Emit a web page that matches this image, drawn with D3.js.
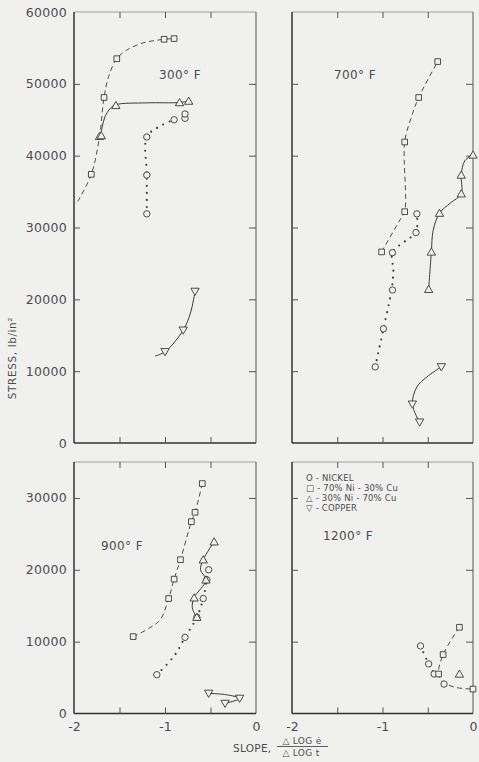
<!DOCTYPE html>
<html>
<head>
<meta charset="utf-8">
<script src="https://cdn.jsdelivr.net/npm/d3@7/dist/d3.min.js"></script>
<style>
  html, body { margin: 0; padding: 0; background: #f0f0ef; }
  svg { display: block; }
  text { font-family: "DejaVu Sans", sans-serif; fill: #4d4d4d; }
</style>
</head>
<body>
<svg id="chart" width="479" height="762"></svg>
<script>
// ---- Creep slope vs. stress, four test temperatures ----
// Each point: [slope Δlog ė / Δlog t, stress lb/in²]

// 300° F
const nickel300 = [[-1.2, 31900], [-1.2, 37300], [-1.2, 42600], [-0.9, 45000], [-0.78, 45200], [-0.78, 45800]];
const ni70_300  = [[-1.81, 37400], [-1.67, 48100], [-1.53, 53500], [-1.01, 56200], [-0.9, 56300]];
const ni30_300  = [[-1.72, 42700], [-1.70, 42800], [-1.54, 47000], [-0.84, 47400], [-0.74, 47600]];
const copper300 = [[-1.0, 12700], [-0.8, 15700], [-0.67, 21100]];
// fitted curves, 300° F
const nickel300Fit = [[-1.2, 31900], [-1.2, 37300], [-1.2, 42600], [-1.07, 44000], [-0.9, 45000], [-0.78, 45500]];
const ni70_300Fit  = [[-1.96, 33600], [-1.81, 37400], [-1.72, 42600], [-1.67, 48100], [-1.62, 51000], [-1.53, 53500], [-1.42, 54700], [-1.24, 55700], [-1.01, 56200], [-0.9, 56300]];
const ni30_300Fit  = [[-1.71, 42700], [-1.69, 44000], [-1.66, 45400], [-1.6, 46600], [-1.54, 47100], [-1.2, 47350], [-0.84, 47400], [-0.74, 47600]];
const copper300Fit = [[-1.11, 12100], [-1.0, 12700], [-0.8, 15700], [-0.72, 18100], [-0.67, 21100]];

// 700° F
const nickel700 = [[-1.08, 10600], [-0.99, 15900], [-0.89, 21300], [-0.89, 26500], [-0.63, 29300], [-0.62, 31900]];
const ni70_700  = [[-1.01, 26600], [-0.755, 32200], [-0.755, 41900], [-0.6, 48100], [-0.39, 53100]];
const ni30_700  = [[-0.49, 21400], [-0.46, 26600], [-0.37, 32000], [-0.13, 34700], [-0.13, 37300], [0, 40100]];
const copper700 = [[-0.35, 10600], [-0.67, 5400], [-0.59, 2900]];
const nickel700Fit = [[-1.08, 10600], [-0.99, 15900], [-0.9, 21300], [-0.88, 24000], [-0.89, 26500], [-0.75, 28100], [-0.63, 29300], [-0.62, 31900]];
const ni70_700Fit  = [[-1.01, 26600], [-0.81, 31000], [-0.755, 32200], [-0.755, 41900], [-0.68, 45400], [-0.6, 48100], [-0.39, 53100]];
const ni30_700Fit  = [[-0.49, 21400], [-0.46, 26600], [-0.44, 29600], [-0.37, 32000], [-0.25, 33400], [-0.13, 34700], [-0.13, 37300], [-0.09, 39300], [0, 40100]];
const copper700Fit = [[-0.35, 10600], [-0.51, 9200], [-0.62, 7800], [-0.67, 5400], [-0.59, 2900]];

// 900° F
const nickel900 = [[-1.09, 5400], [-0.78, 10600], [-0.65, 13400], [-0.58, 16000], [-0.54, 18600], [-0.52, 20000]];
const ni70_900  = [[-1.35, 10700], [-0.96, 16000], [-0.9, 18700], [-0.83, 21400], [-0.71, 26700], [-0.67, 28000], [-0.59, 32000]];
const ni30_900  = [[-0.65, 13400], [-0.68, 16100], [-0.55, 18600], [-0.58, 21400], [-0.46, 23900]];
const copper900 = [[-0.52, 2800], [-0.18, 2100], [-0.34, 1400]];
const nickel900Fit = [[-1.09, 5400], [-0.9, 8000], [-0.78, 10600], [-0.65, 13400], [-0.58, 16000], [-0.54, 18600], [-0.52, 20000]];
const ni70_900Fit  = [[-1.35, 10700], [-1.17, 11900], [-1.05, 13100], [-0.96, 16000], [-0.9, 18700], [-0.83, 21400], [-0.71, 26700], [-0.67, 28000], [-0.59, 32000]];
const ni30_900Fit  = [[-0.65, 13400], [-0.7, 14700], [-0.68, 16100], [-0.55, 18600], [-0.61, 20000], [-0.58, 21400], [-0.46, 23900]];
const copper900Fit = [[-0.52, 2800], [-0.32, 2600], [-0.18, 2100], [-0.34, 1400]];

// 1200° F
const nickel1200 = [[-0.58, 9400], [-0.49, 6900], [-0.43, 5500], [-0.32, 4100]];
const ni70_1200  = [[-0.15, 12000], [-0.33, 8200], [-0.38, 5500], [0, 3400]];
const ni30_1200  = [[-0.15, 5500]];
const copper1200 = [];
const nickel1200Fit = [[-0.58, 9400], [-0.49, 6900], [-0.43, 5500]];
const ni70_1200Fit  = [[-0.15, 12000], [-0.33, 8200], [-0.38, 5500], [-0.33, 4400], [-0.2, 3650], [0, 3400]];

// axes
const slopeTicks = [-1.5, -1, -0.5];
const slopeLabels = [-2, -1, 0];
const stressTicksTop = [0, 10000, 20000, 30000, 40000, 50000, 60000];
const stressTicksBottom = [0, 10000, 20000, 30000];
const tempLabels = ["300° F", "700° F", "900° F", "1200° F"];
const legendLabels = ["O - NICKEL", "□ - 70% Ni - 30% Cu", "△ - 30% Ni - 70% Cu", "▽ - COPPER"];

const svg = d3.select("#chart");
const BG = "#f0f0ef";
const INK = "#3a3a3a";

svg.append("rect").attr("width", 479).attr("height", 762).attr("fill", BG);

const xLeft  = d3.scaleLinear().domain([-2, 0]).range([74, 256]);
const xRight = d3.scaleLinear().domain([-2, 0]).range([292, 473]);
const yTop   = d3.scaleLinear().domain([0, 60000]).range([443, 12]);
const yBot   = d3.scaleLinear().domain([0, 35000]).range([713.5, 462]);

const panels = [
  { x: xLeft,  y: yTop, label: tempLabels[0], lx: 159, ly: 79, yTicks: stressTicksTop, yLabels: true, xLabels: false,
    nickel: nickel300, ni70: ni70_300, ni30: ni30_300, copper: copper300,
    fits: { nickel: nickel300Fit, ni70: ni70_300Fit, ni30: ni30_300Fit, copper: copper300Fit } },
  { x: xRight, y: yTop, label: tempLabels[1], lx: 334, ly: 79, yTicks: stressTicksTop, yLabels: false, xLabels: false,
    nickel: nickel700, ni70: ni70_700, ni30: ni30_700, copper: copper700,
    fits: { nickel: nickel700Fit, ni70: ni70_700Fit, ni30: ni30_700Fit, copper: copper700Fit } },
  { x: xLeft,  y: yBot, label: tempLabels[2], lx: 101, ly: 550, yTicks: stressTicksBottom, yLabels: true, xLabels: true,
    nickel: nickel900, ni70: ni70_900, ni30: ni30_900, copper: copper900,
    fits: { nickel: nickel900Fit, ni70: ni70_900Fit, ni30: ni30_900Fit, copper: copper900Fit } },
  { x: xRight, y: yBot, label: tempLabels[3], lx: 323, ly: 540, yTicks: stressTicksBottom, yLabels: false, xLabels: true,
    nickel: nickel1200, ni70: ni70_1200, ni30: ni30_1200, copper: copper1200,
    fits: { nickel: nickel1200Fit, ni70: ni70_1200Fit } }
];

const lineStyles = {
  nickel: { dash: "0 7", width: 2.1, cap: "round" },
  ni70:   { dash: "5 3.5", width: 0.9, cap: "butt" },
  ni30:   { dash: null, width: 1, cap: "butt" },
  copper: { dash: null, width: 1, cap: "butt" }
};

const symbols = {
  nickel: { type: d3.symbolCircle, size: 32, rot: 0 },
  ni70:   { type: d3.symbolSquare, size: 32, rot: 0 },
  ni30:   { type: d3.symbolTriangle, size: 30, rot: 0 },
  copper: { type: d3.symbolTriangle, size: 30, rot: 180 }
};

panels.forEach(p => {
  const g = svg.append("g");
  const [x0, x1] = p.x.range();
  const [y1, y0] = p.y.range();

  // frame: heavier left/bottom, lighter top/right
  g.append("line").attr("x1", x0).attr("x2", x1).attr("y1", y0).attr("y2", y0)
    .attr("stroke", "#8a8a8a").attr("stroke-width", 0.8);
  g.append("line").attr("x1", x1).attr("x2", x1).attr("y1", y0).attr("y2", y1)
    .attr("stroke", "#555").attr("stroke-width", 1);
  g.append("line").attr("x1", x0).attr("x2", x0).attr("y1", y0).attr("y2", y1)
    .attr("stroke", "#333").attr("stroke-width", 1.5);
  g.append("line").attr("x1", x0).attr("x2", x1).attr("y1", y1).attr("y2", y1)
    .attr("stroke", "#333").attr("stroke-width", 1.5);

  // inward ticks on all four sides
  const inner = p.yTicks.filter(v => v > p.y.domain()[0] && v < p.y.domain()[1]);
  const tickStyle = s => s.selectAll(".domain").remove();
  g.append("g").attr("transform", `translate(${x0},0)`)
    .call(d3.axisLeft(p.y).tickValues(inner).tickSize(-6).tickFormat(""))
    .call(tickStyle).selectAll("line").attr("stroke", "#555");
  g.append("g").attr("transform", `translate(${x1},0)`)
    .call(d3.axisRight(p.y).tickValues(inner).tickSize(-7).tickFormat(""))
    .call(tickStyle).selectAll("line").attr("stroke", "#555");
  g.append("g").attr("transform", `translate(0,${y0})`)
    .call(d3.axisTop(p.x).tickValues(slopeTicks).tickSize(-6).tickFormat(""))
    .call(tickStyle).selectAll("line").attr("stroke", "#555");
  g.append("g").attr("transform", `translate(0,${y1})`)
    .call(d3.axisBottom(p.x).tickValues(slopeTicks).tickSize(-6).tickFormat(""))
    .call(tickStyle).selectAll("line").attr("stroke", "#555");

  if (p.yLabels) {
    const ax = g.append("g").attr("transform", `translate(${x0},0)`)
      .call(d3.axisLeft(p.y).tickValues(p.yTicks).tickSize(0).tickPadding(7).tickFormat(d3.format("d")));
    ax.select(".domain").remove();
    ax.selectAll("text").style("font-size", "12.5px").attr("fill", "#4d4d4d").style("letter-spacing", "0.3px");
  }
  if (p.xLabels) {
    const ax = g.append("g").attr("transform", `translate(0,${y1})`)
      .call(d3.axisBottom(p.x).tickValues(slopeLabels).tickSize(0).tickPadding(9).tickFormat(d => d === 0 ? "0" : "-" + Math.abs(d)));
    ax.select(".domain").remove();
    ax.selectAll("text").style("font-size", "12.5px").attr("fill", "#4d4d4d");
  }

  // temperature label
  g.append("text").attr("x", p.lx).attr("y", p.ly).style("font-size", "12px")
    .style("letter-spacing", "0.4px").text(p.label);

  // fitted curves
  const line = d3.line().x(d => p.x(d[0])).y(d => p.y(d[1])).curve(d3.curveCatmullRom.alpha(0.5));
  Object.entries(p.fits).forEach(([key, pts]) => {
    const st = lineStyles[key];
    g.append("path").attr("d", line(pts)).attr("fill", "none")
      .attr("stroke", INK).attr("stroke-width", st.width)
      .attr("stroke-linecap", st.cap)
      .attr("stroke-dasharray", st.dash);
  });

  // data markers
  ["nickel", "ni70", "ni30", "copper"].forEach(key => {
    const sym = symbols[key];
    g.selectAll(null).data(p[key]).join("path")
      .attr("d", d3.symbol(sym.type, sym.size))
      .attr("transform", d => `translate(${p.x(d[0])},${p.y(d[1]) + (key === "ni30" ? 0.8 : key === "copper" ? -0.8 : 0)}) rotate(${sym.rot})`)
      .attr("fill", BG).attr("stroke", INK).attr("stroke-width", 0.9);
  });
});

// legend in the 1200° F panel
const legend = svg.append("g").attr("transform", "translate(306,481)");
legend.selectAll("text").data(legendLabels).join("text")
  .attr("x", 0).attr("y", (d, i) => i * 10)
  .style("font-size", "8.5px").style("letter-spacing", "0.2px")
  .text(d => d);

// stress axis title
svg.append("text").attr("transform", "translate(16,358) rotate(-90)")
  .attr("text-anchor", "middle").style("font-size", "10.5px").style("letter-spacing", "0.6px")
  .text("STRESS,  lb/in²");

// slope axis title with fraction
svg.append("text").attr("x", 233).attr("y", 752).style("font-size", "10.5px").style("letter-spacing", "0.3px").text("SLOPE,");
svg.append("text").attr("x", 302).attr("y", 744).attr("text-anchor", "middle")
  .style("font-size", "9px").style("letter-spacing", "0.3px").text("△ LOG ė");
svg.append("line").attr("x1", 277).attr("x2", 328).attr("y1", 746.5).attr("y2", 746.5)
  .attr("stroke", "#4d4d4d").attr("stroke-width", 0.9);
svg.append("text").attr("x", 301).attr("y", 755.5).attr("text-anchor", "middle")
  .style("font-size", "9px").style("letter-spacing", "0.3px").text("△ LOG t");
</script>
</body>
</html>
